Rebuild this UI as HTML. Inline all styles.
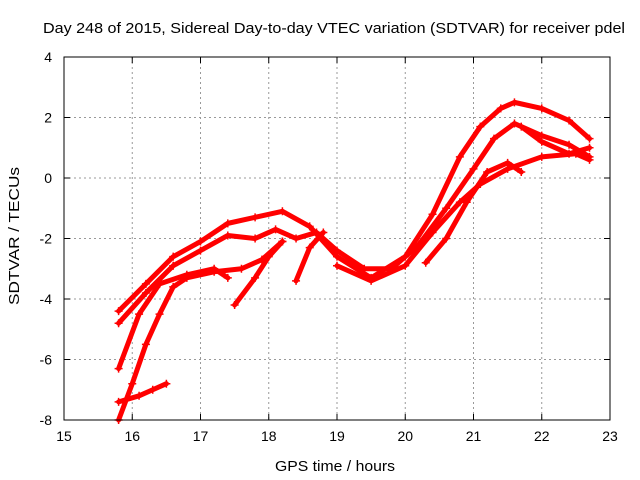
<!DOCTYPE html>
<html><head><meta charset="utf-8"><style>
body{margin:0;background:#fff}
svg{display:block;font-family:"Liberation Sans",sans-serif}
</style></head><body>
<svg id="chart" width="640" height="480">
<rect width="640" height="480" fill="#fff"/>
<text x="334" y="33" text-anchor="middle" font-size="15" textLength="582" lengthAdjust="spacingAndGlyphs">Day 248 of 2015, Sidereal Day-to-day VTEC variation (SDTVAR) for receiver pdel</text>
<text x="335" y="471" text-anchor="middle" font-size="15" textLength="120" lengthAdjust="spacingAndGlyphs">GPS time / hours</text>
<text transform="translate(19,236) rotate(-90)" text-anchor="middle" font-size="15" textLength="138" lengthAdjust="spacingAndGlyphs">SDTVAR / TECUs</text>
<g id="grid"></g><g id="ticks"></g><g id="series"></g>
<rect x="64" y="57" width="546" height="363" fill="none" stroke="#000" stroke-width="1"/>
</svg>
<script>
const xTicks=[15,16,17,18,19,20,21,22,23];
const yTicks=[-8,-6,-4,-2,0,2,4];
const t1=[[15.8,-4.4],[16.2,-3.5],[16.6,-2.6],[17,-2.1],[17.4,-1.5],[17.8,-1.3],[18.2,-1.1],[18.6,-1.6],[19,-2.6],[19.5,-3.3],[20,-2.6],[20.4,-1.2],[20.8,0.7],[21.1,1.7],[21.4,2.3],[21.6,2.5],[22,2.3],[22.4,1.9],[22.7,1.3]];
const t2=[[15.8,-4.8],[16.2,-3.8],[16.6,-2.9],[17,-2.4],[17.4,-1.9],[17.8,-2],[18.1,-1.7],[18.4,-2],[18.7,-1.8],[19,-2.4],[19.4,-3],[19.8,-3],[20.2,-2.2],[20.6,-1],[21,0.3],[21.3,1.3],[21.6,1.8],[22,1.4],[22.4,1.1],[22.7,0.7]];
const t3=[[15.8,-6.3],[16.1,-4.5],[16.4,-3.5],[16.8,-3.2],[17.2,-3],[17.4,-3.3]];
const t4=[[15.8,-8],[16,-6.8],[16.2,-5.5],[16.4,-4.5],[16.6,-3.6],[16.8,-3.3],[17.2,-3.1],[17.6,-3],[17.9,-2.7],[18.2,-2.1]];
const t5=[[15.8,-7.4],[16.1,-7.2],[16.3,-7],[16.5,-6.8]];
const t6=[[17.5,-4.2],[17.8,-3.3],[18,-2.6],[18.2,-2.1]];
const t7=[[18.4,-3.4],[18.6,-2.3],[18.8,-1.8]];
const t8=[[19,-2.9],[19.5,-3.4],[20,-2.9],[20.4,-1.8],[20.8,-0.8],[21.1,-0.2],[21.5,0.3],[22,0.7],[22.5,0.8],[22.7,0.6]];
const t9=[[20.3,-2.8],[20.6,-2],[20.9,-0.8],[21.2,0.2],[21.5,0.5],[21.7,0.2]];
const t10=[[21.7,1.7],[22,1.2],[22.4,0.8],[22.7,1.0]];
const seriesList=[t1,t2,t3,t4,t5,t6,t7,t8,t9,t10];
const NS="http://www.w3.org/2000/svg";
const X=v=>64+(v-15)*546/8, Y=v=>420-(v+8)*363/12;
const grid=document.getElementById('grid'),ticks=document.getElementById('ticks'),ser=document.getElementById('series');
function mk(tag,attrs,parent){const e=document.createElementNS(NS,tag);for(const k in attrs)e.setAttribute(k,attrs[k]);parent.appendChild(e);return e;}
xTicks.forEach(t=>{const x=X(t);
 if(t>15&&t<23){const g=mk('line',{x1:x,x2:x,y1:57,y2:420,stroke:'#999','stroke-dasharray':'2,3'},grid);
 
 }
 mk('line',{x1:x,x2:x,y1:420,y2:414,stroke:'#000'},ticks);mk('line',{x1:x,x2:x,y1:57,y2:63,stroke:'#000'},ticks);
 const l=mk('text',{x:x,y:441,'text-anchor':'middle','font-size':14},ticks);l.textContent=t;
 
 });
yTicks.forEach(t=>{const y=Y(t);
 if(t>-8&&t<4){const g=mk('line',{x1:64,x2:610,y1:y,y2:y,stroke:'#999','stroke-dasharray':'2,3'},grid);
 
 }
 mk('line',{x1:64,x2:70,y1:y,y2:y,stroke:'#000'},ticks);mk('line',{x1:604,x2:610,y1:y,y2:y,stroke:'#000'},ticks);
 const l=mk('text',{x:52,y:y+5,'text-anchor':'end','font-size':14},ticks);l.textContent=t;
 
 });
seriesList.forEach((s,i)=>{
 const p=mk('polyline',{points:s.map(d=>X(d[0])+','+Y(d[1])).join(' '),fill:'none',stroke:'#f00','stroke-width':5,'stroke-linejoin':'round','stroke-linecap':'round'},ser);
 
 
 s.forEach(d=>{const x=X(d[0]),y=Y(d[1]);
  const m=mk('path',{d:`M${x-4},${y}H${x+4}M${x},${y-4}V${y+4}`,stroke:'#f00','stroke-width':1.5},ser);
  
  });
});
</script>
</body></html>
